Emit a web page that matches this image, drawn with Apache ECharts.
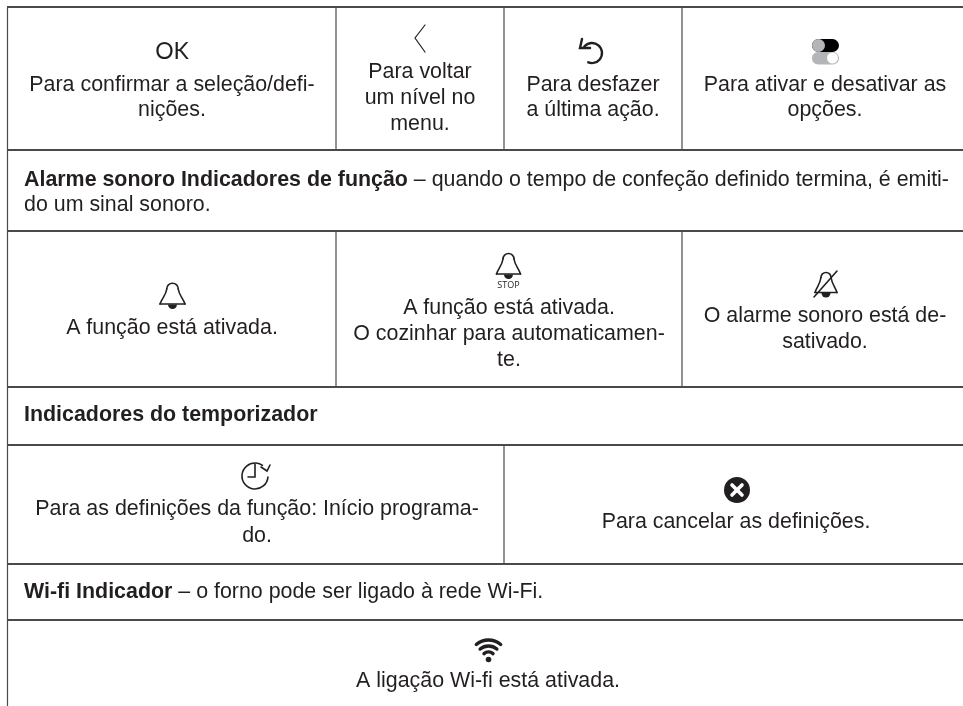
<!DOCTYPE html>
<html><head><meta charset="utf-8">
<style>html,body{margin:0;padding:0;background:#fff}#c{width:963px;height:706px}</style>
<script src="https://cdn.jsdelivr.net/npm/echarts@6/dist/echarts.min.js"></script>
</head><body><div id="c"></div>
<script>
// Table structure: horizontal rules (y), vertical rules [x, y0, y1]
const horizontalRules = [7, 150, 231, 387, 445, 564, 620];
const verticalRules = [[7.5,7,706],[336,7,150],[504,7,150],[682,7,150],[336,231,387],[682,231,387],[504,445,564]];
// Centered cell texts: [text, x, y]
const cellTexts = [
  ['Para confirmar a seleção/defi-',172,85],['nições.',172,110],
  ['Para voltar',420,72],['um nível no',420,98],['menu.',420,124],
  ['Para desfazer',593,85],['a última ação.',593,110],
  ['Para ativar e desativar as',825,85],['opções.',825,110],
  ['A função está ativada.',172,328],
  ['A função está ativada.',509,308],['O cozinhar para automaticamen-',509,334],['te.',509,360],
  ['O alarme sonoro está de-',825,316],['sativado.',825,342],
  ['Para as definições da função: Início programa-',257,509],['do.',257,536],
  ['Para cancelar as definições.',736,522],
  ['A ligação Wi-fi está ativada.',488,681]
];
// Full-width texts: [bold part, normal part, y]
const headingTexts = [
  ['Alarme sonoro Indicadores de função',' – quando o tempo de confeção definido termina, é emiti-',180],
  ['','do um sinal sonoro.',205],
  ['Indicadores do temporizador','',415],
  ['Wi-fi Indicador',' – o forno pode ser ligado à rede Wi-Fi.',592]
];
const ink = '#231f20', ruleColor = '#4a4a4a';
const FONT = '"Liberation Sans", Arial, sans-serif', SIZE = 21.4;
const els = [];
const stroke = (lw) => ({stroke:ink, lineWidth:lw, fill:null, lineCap:'round'});
const poly = (pts, lw, color) => els.push({type:'polyline', shape:{points:pts}, style:Object.assign(stroke(lw), color?{stroke:color}:{})});
const arc = (cx,cy,r,a,b,lw) => els.push({type:'arc', shape:{cx,cy,r,startAngle:a*Math.PI/180,endAngle:b*Math.PI/180,clockwise:true}, style:stroke(lw)});
const curve = (x1,y1,cpx1,cpy1,cpx2,cpy2,x2,y2,lw) => els.push({type:'bezierCurve', shape:{x1,y1,cpx1,cpy1,cpx2,cpy2,x2,y2}, style:stroke(lw)});
const dot = (cx,cy,r,fill) => els.push({type:'circle', shape:{cx,cy,r}, style:{fill}});

horizontalRules.forEach(y => els.push({type:'line', shape:{x1:7,y1:y,x2:963,y2:y}, style:{stroke:ruleColor,lineWidth:1.8}}));
verticalRules.forEach(v => els.push({type:'line', shape:{x1:v[0],y1:v[1],x2:v[0],y2:v[2]}, style:{stroke:ruleColor,lineWidth:1.2}}));
cellTexts.forEach(t => els.push({type:'text', x:t[1], y:t[2], style:{text:t[0], fill:ink, font:SIZE+'px '+FONT, textAlign:'center', textVerticalAlign:'middle'}}));
headingTexts.forEach(t => els.push({type:'text', x:24, y:t[2], style:{
  text:(t[0]?'{b|'+t[0]+'}':'')+(t[1]?'{n|'+t[1]+'}':''), fill:ink, textVerticalAlign:'middle', verticalAlign:'middle',
  rich:{b:{font:'bold '+SIZE+'px '+FONT, fill:ink}, n:{font:SIZE+'px '+FONT, fill:ink}}}}));

// OK
els.push({type:'text', x:172, y:52, style:{text:'OK', fill:ink, font:'23px Lato, sans-serif', textAlign:'center', textVerticalAlign:'middle'}});
// Back chevron
poly([[425,25],[415,38],[425,52]],1.2);
// Undo
arc(592,53,10,-140,112,2.4);
poly([[582,39],[580,48],[590,48]],2.4);
// Toggle
els.push({type:'rect', shape:{x:812,y:39,width:27,height:13,r:6.5}, style:{fill:'#000'}});
dot(818.5,45.5,6.5,'#b4b5b8');
els.push({type:'rect', shape:{x:812,y:52,width:27,height:12.5,r:6.25}, style:{fill:'#b4b5b8'}});
dot(832.5,58,5.5,'#fff');
// Bells
function bell(cx, top, half){
  const d = half*0.46;
  arc(cx,top+7,d,180,360,1.6);
  curve(cx-d,top+7,cx-d-1,top+14,cx-half+2,top+16,cx-half,top+22,1.6);
  curve(cx+d,top+7,cx+d+1,top+14,cx+half-2,top+16,cx+half,top+22,1.6);
  poly([[cx-half,top+22],[cx+half,top+22]],1.6);
  els.push({type:'sector', shape:{cx,cy:top+22.5,r:4.5,r0:0,startAngle:0,endAngle:Math.PI,clockwise:true}, style:{fill:ink}});
}
bell(172.5,282,12.5);
bell(508.5,252,12);
els.push({type:'text', x:508.5, y:285.5, style:{text:'STOP', fill:ink, font:'9px "Open Sans", sans-serif', textAlign:'center', textVerticalAlign:'middle'}});
bell(826,270.5,11);
poly([[837,271],[814,297]],1.6);
// Clock
arc(255,476,13,5,-55+360,1.6);
poly([[255,464],[255,477],[248,477]],1.6);
poly([[261,467],[267,471],[270,465]],1.6);
// Cancel
dot(737,490,13,ink);
poly([[732,485],[742,495]],3.6,'#fff');
poly([[742,485],[732,495]],3.6,'#fff');
// Wifi
[19,13,7].forEach(r => arc(488.5,659,r,-130,-50,3.4));
dot(488.5,659.5,2.8,ink);

const chart = echarts.init(document.getElementById('c'), null, {renderer:'canvas'});
chart.setOption({backgroundColor:'#fff', animation:false, graphic:{elements:els}});
</script></body></html>
